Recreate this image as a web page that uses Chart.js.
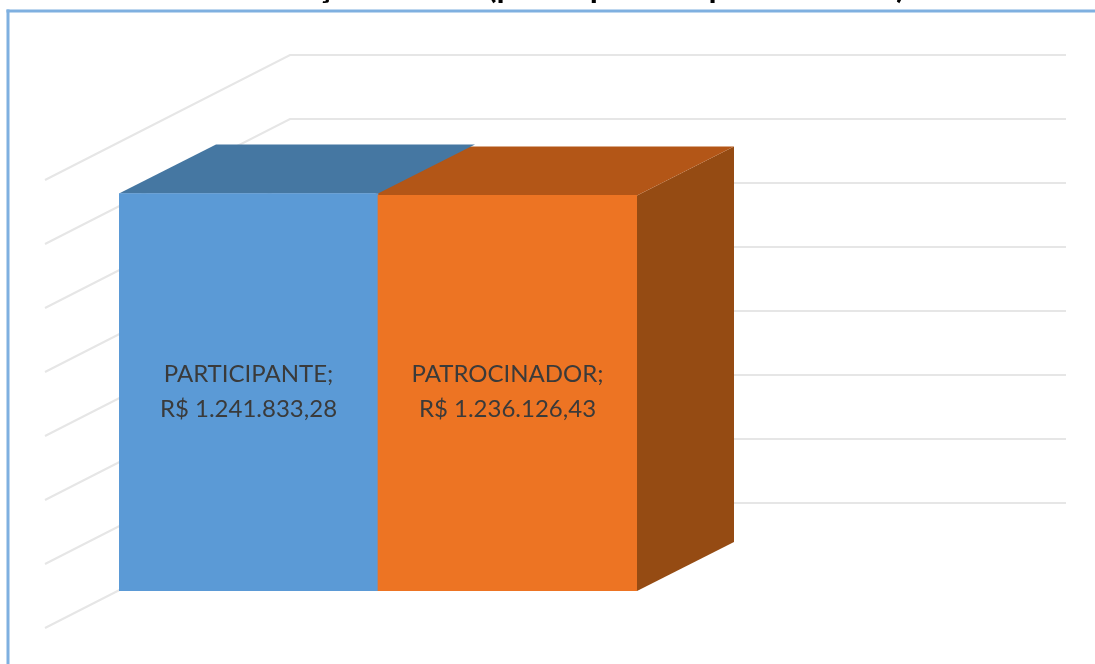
<!DOCTYPE html>
<html lang="pt-BR">
<head>
<meta charset="utf-8">
<title>Contribuição</title>
<script src="https://cdn.jsdelivr.net/npm/chart.js@4"></script>
<style>
html,body{margin:0;padding:0;background:#fff;overflow:hidden}
#wrap{position:relative;width:1095px;height:664px}
canvas{display:block;filter:blur(0.7px)}
</style>
</head>
<body>
<div id="wrap"><canvas id="c" width="1095" height="664"></canvas></div>
<script>
const titleText = 'Contribuição mensal (participante + patrocinador)';
const categories = ['PARTICIPANTE', 'PATROCINADOR'];
const values = [1241833.28, 1236126.43];
const valueLabels = ['R$ 1.241.833,28', 'R$ 1.236.126,43'];
const axisMax = 1400000;
const axisStep = 200000;
const frontColors = ['#5B9AD6', '#ED7423'];
const topColors = ['#4577A2', '#B35617'];
const sideColors = ['#44719A', '#954B13'];

const GRID = '#E6E6E6', BORDER = '#7FB0E0';
const BAR_DX = 97, BAR_DY = -49;
const WALL_DX = 171, WALL_DY = -88;
const WALL_RIGHT = 1066, FLOOR_LEFT_DX = -245, FLOOR_LEFT_DY = 125;
const TOP_OVERLAP = 6;

function poly(ctx, pts, fill) {
  ctx.beginPath();
  pts.forEach((p, i) => i ? ctx.lineTo(p[0], p[1]) : ctx.moveTo(p[0], p[1]));
  ctx.closePath();
  ctx.fillStyle = fill;
  ctx.fill();
}

const depth3d = {
  id: 'depth3d',
  beforeDatasetsDraw(chart) {
    const ctx = chart.ctx, y = chart.scales.y, area = chart.chartArea;
    ctx.save();
    // frame
    ctx.fillStyle = BORDER;
    ctx.fillRect(6.5, 9.5, 1095, 3);
    ctx.fillRect(6.5, 9.5, 3, 664);
    // back wall + side wall gridlines, from the value scale
    ctx.strokeStyle = GRID;
    ctx.lineWidth = 2;
    y.ticks.forEach(t => {
      const wy = y.getPixelForValue(t.value) + WALL_DY;
      const wx = area.left + WALL_DX;
      ctx.beginPath();
      ctx.moveTo(wx + FLOOR_LEFT_DX, wy + FLOOR_LEFT_DY);
      ctx.lineTo(wx, wy);
      ctx.lineTo(WALL_RIGHT, wy);
      ctx.stroke();
    });
    // extruded faces of the bars
    const bars = chart.getDatasetMeta(0).data;
    const half = b => b.width / 2;
    // last bar's right side
    const last = bars[bars.length - 1];
    const r = last.x + half(last);
    poly(ctx, [[r, last.y], [r + BAR_DX, last.y + BAR_DY], [r + BAR_DX, last.base + BAR_DY], [r, last.base]], sideColors[1]);
    // tops, later bars first so the first bar overlaps
    for (let i = bars.length - 1; i >= 0; i--) {
      const b = bars[i], rr = b.x + half(b);
      const l = b.x - half(b) - (i > 0 ? TOP_OVERLAP : 0);
      poly(ctx, [[l, b.y], [rr, b.y], [rr + BAR_DX, b.y + BAR_DY], [l + BAR_DX, b.y + BAR_DY]], topColors[i]);
    }
    ctx.restore();
  },
  afterDatasetsDraw(chart) {
    const ctx = chart.ctx, bars = chart.getDatasetMeta(0).data;
    ctx.save();
    ctx.textAlign = 'center';
    ctx.textBaseline = 'middle';
    ctx.fillStyle = '#3A3A3A';
    ctx.font = '24px Lato';
    bars.forEach((b, i) => {
      const cy = (chart.scales.y.getPixelForValue(0) + chart.scales.y.getPixelForValue(axisMax)) / 2 + 25;
      ctx.fillText(categories[i] + ';', b.x, cy - 17.5);
      ctx.fillText(valueLabels[i], b.x, cy + 17.5);
    });
    // chart title, cut off by the top edge of the picture
    ctx.fillStyle = '#000';
    ctx.textBaseline = 'alphabetic';
    ctx.font = 'bold 33px Lato';
    ctx.fillText(titleText, 542, -2);
    ctx.restore();
  }
};

new Chart(document.getElementById('c'), {
  type: 'bar',
  data: {
    labels: categories,
    datasets: [{
      data: values,
      backgroundColor: frontColors,
      borderWidth: 0,
      barPercentage: 1,
      categoryPercentage: 1
    }]
  },
  options: {
    responsive: false,
    animation: false,
    layout: { padding: { left: 119, right: 458, top: 143, bottom: 73 } },
    plugins: { legend: { display: false }, tooltip: { enabled: false }, title: { display: false } },
    scales: {
      x: { display: false },
      y: { display: false, min: 0, max: axisMax, ticks: { stepSize: axisStep } }
    }
  },
  plugins: [depth3d]
});
</script>
</body>
</html>
